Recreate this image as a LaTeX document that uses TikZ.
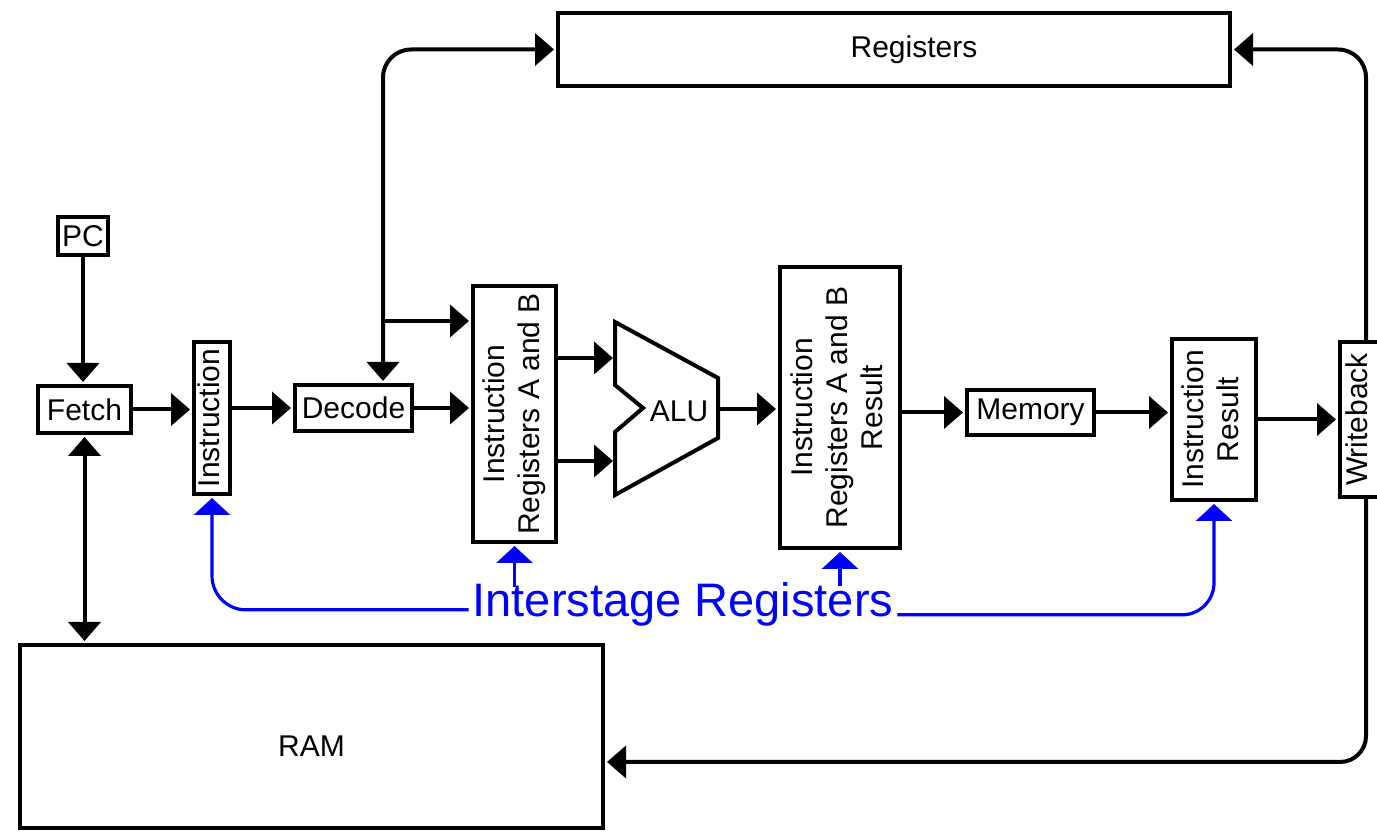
\documentclass[tikz,border=0pt]{standalone}
\usepackage{fontspec}
\setmainfont{Liberation Sans}
\usetikzlibrary{arrows.meta,calc}

\newcommand{\vlabel}[1]{\rotatebox{90}{\begin{tabular}{@{}c@{}}#1\end{tabular}}}

\begin{document}
\begin{tikzpicture}[->,>={Triangle[width=16pt,length=9.5pt]},shorten >=1pt,
                    x=0.5pt,y=-0.5pt,line width=2pt,
                    every node/.style={font=\fontsize{15}{17.5}\selectfont}]
  \tikzstyle{box}=[draw,rectangle,inner sep=0pt,line width=2pt]
  \tikzstyle{stage}=[blue,line width=1.6pt,-{Triangle[width=18pt,length=8.5pt]}]

  \useasboundingbox (0,0) rectangle (1377,833);

  \node[box,minimum width=336pt,minimum height=36.5pt,
        label={[xshift=10pt]center:Registers}]         (regs)   at (894,49.5)   {};
  \node[box,minimum width=25pt,minimum height=19pt]    (pc)     at (83,236)     {PC};
  \node[box,minimum width=46.5pt,minimum height=23.5pt] (fetch) at (84.5,409.5) {Fetch};
  \node[box,minimum width=18pt,minimum height=76pt]    (instr)  at (212,418)    {\vlabel{Instruction}};
  \node[box,minimum width=58.5pt,minimum height=23pt]  (decode) at (353.5,408)  {Decode};
  \node[box,minimum width=41.5pt,minimum height=128pt] (irab)   at (514.5,414)  {\vlabel{Instruction\\Registers A and B}};
  \node[box,minimum width=60pt,minimum height=140.5pt] (irabr)  at (840,407.5)  {\vlabel{Instruction\\Registers A and B\\Result}};
  \node[box,minimum width=63.5pt,minimum height=22.5pt] (memory) at (1030.5,412.5) {Memory};
  \node[box,minimum width=42pt,minimum height=80.5pt]  (ires)   at (1214,419.5) {\vlabel{Instruction\\Result}};
  \node[box,minimum width=20pt,minimum height=77.5pt]  (wb)     at (1360,419.5) {\vlabel{Writeback}};
  \node[box,minimum width=291.5pt,minimum height=91.5pt,
        label={[yshift=-4.75pt]center:RAM}]             (ram)    at (311.5,736.5) {};

  % ALU outline with the notch on the input side
  \draw[-,shorten >=0pt] (615,322) -- (718,378) -- (718,438) -- (615,495)
        -- (615,432) -- (643,408) -- (615,385) -- cycle;
  \node (alu) at (679,411) {ALU};
  \coordinate (alu-a)   at (615,358);
  \coordinate (alu-b)   at (615,461);
  \coordinate (alu-out) at (718,409);

  \coordinate (rd)  at (383,321);
  \coordinate (wbx) at (1366,762);

  \path (pc.south) edge (pc.south |- fetch.north)
        (fetch.east) edge (fetch.east -| instr.west)
        (instr.east |- decode.west) edge (decode.west)
        (decode.east) edge (decode.east -| irab.west)
        (rd) edge (rd -| irab.west)
        (irab.east |- alu-a) edge (alu-a)
        (irab.east |- alu-b) edge (alu-b)
        (alu-out) edge (alu-out -| irabr.west)
        (irabr.east |- memory.west) edge (memory.west)
        (memory.east) edge (memory.east -| ires.west)
        (ires.east) edge (wb.west)
        (fetch.south) edge[<->,shorten <=1pt] (fetch.south |- ram.north);

  % register file read and writeback
  \draw[<->,shorten <=1pt,rounded corners=14pt] (decode.north -| rd) |- (regs.west);
  \draw[rounded corners=14pt] (wb.north -| wbx) |- (regs.east);
  \draw[rounded corners=13pt] (wb.south -| wbx) |- (ram.east |- wbx);

  % interstage registers
  \node[text=blue,font=\fontsize{23.5}{28}\selectfont,anchor=base,inner sep=1pt]
        (inter) at (683,617) {Interstage Registers};
  \coordinate (ia) at ($(irab.south |- inter.north)+(0,8)$);
  \coordinate (ib) at ($(irabr.south |- inter.north)+(0,7)$);
  \draw[stage,rounded corners=17pt] ($(inter.west)+(0,5)$) -| (instr.south);
  \draw[stage,rounded corners=16pt] ($(inter.east)+(0,10)$) -| (ires.south);
  \path[stage] (ia) edge (irab.south)
               (ib) edge (irabr.south);

\end{tikzpicture}
\end{document}
